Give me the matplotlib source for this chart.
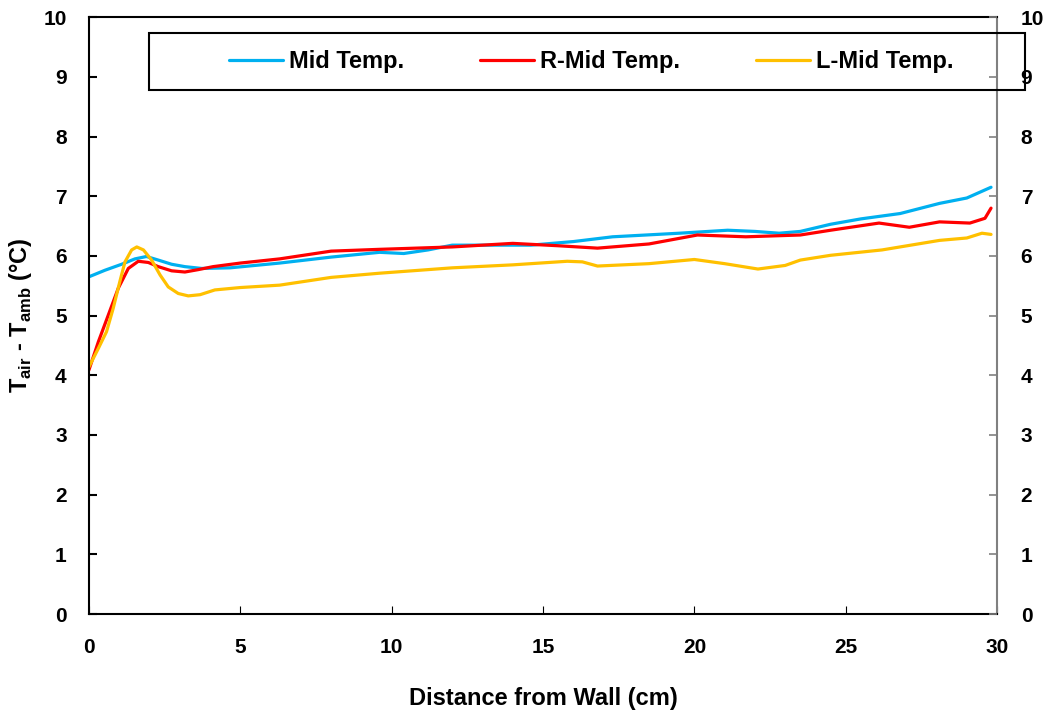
import matplotlib
matplotlib.use("Agg")
import matplotlib.pyplot as plt
from matplotlib.patches import Rectangle

plt.rcParams["font.family"] = ["Liberation Sans", "DejaVu Sans"]
plt.rcParams["font.weight"] = "bold"
plt.rcParams["mathtext.fontset"] = "custom"
plt.rcParams["mathtext.rm"] = "Liberation Sans:bold"
plt.rcParams["mathtext.bf"] = "Liberation Sans:bold"

# distance from wall (cm) and temperature rise (°C)
mid_x = [0, 0.53, 1.08, 1.52, 1.9, 2.29, 2.73, 3.17, 3.72, 4.66, 6.3, 8, 9.6, 10.4, 11.2, 12.0, 13.5,
         14.6, 16, 17.3, 19.5, 21.1, 22.0, 22.8, 23.5, 24.5, 25.5, 26.8, 28.1, 29.0, 29.8]
mid_y = [5.65, 5.76, 5.86, 5.95, 5.99, 5.93, 5.86, 5.82, 5.79, 5.8, 5.88, 5.98, 6.06, 6.04, 6.1, 6.18, 6.18,
         6.18, 6.24, 6.32, 6.38, 6.43, 6.41, 6.38, 6.41, 6.53, 6.62, 6.71, 6.88, 6.97, 7.15]

rmid_x = [0, 0.31, 0.64, 0.97, 1.3, 1.63, 1.96, 2.29, 2.73, 3.17, 3.61, 4.1, 5, 6.3, 8, 9.6, 12, 14.0,
          15.5, 16.8, 18.5, 20.1, 21.7, 23.5, 24.5, 26.1, 27.1, 28.1, 29.1, 29.6, 29.8]
rmid_y = [4.09, 4.56, 5.01, 5.46, 5.79, 5.91, 5.89, 5.82, 5.75, 5.73, 5.77, 5.82, 5.88, 5.95, 6.08, 6.11,
          6.15, 6.21, 6.17, 6.13, 6.2, 6.35, 6.32, 6.35, 6.43, 6.55, 6.48, 6.57, 6.55, 6.63, 6.8]

lmid_x = [0, 0.31, 0.58, 0.8, 1.02, 1.19, 1.41, 1.58, 1.8, 2.07, 2.35, 2.62, 2.95, 3.28, 3.67, 4.16,
          5, 6.3, 8, 9.6, 12, 14, 15.8, 16.3, 16.8, 18.5, 20.0, 21.0, 22.1, 23.0, 23.5, 24.5, 26.2, 28.1,
          29.0, 29.5, 29.8]
lmid_y = [4.14, 4.45, 4.73, 5.12, 5.57, 5.9, 6.1, 6.15, 6.1, 5.93, 5.68, 5.48, 5.37, 5.33, 5.35, 5.43,
          5.47, 5.51, 5.64, 5.71, 5.8, 5.85, 5.91, 5.9, 5.83, 5.87, 5.94, 5.87, 5.78, 5.84, 5.93, 6.01, 6.1,
          6.26, 6.3, 6.38, 6.36]

series = [("Mid Temp.", mid_x, mid_y, "#00b0f0"),
          ("R-Mid Temp.", rmid_x, rmid_y, "#ff0000"),
          ("L-Mid Temp.", lmid_x, lmid_y, "#ffc000")]

fig = plt.figure(figsize=(10.54, 7.14), dpi=100)
ax = fig.add_axes([0.0844, 0.140, 0.8616, 0.836])

for name, xs, ys, col in series:
    ax.plot(xs, ys, color=col, lw=2.3, label=name, solid_capstyle="round", solid_joinstyle="round")

ax.set_xlim(0, 30)
ax.set_ylim(0, 10)
ax.set_xticks(range(0, 31, 5))
ax.set_yticks(range(0, 11))
ax.tick_params(axis="y", direction="in", labelsize=15, width=1.5, length=6, pad=16)
ax.tick_params(axis="x", direction="in", labelsize=15, width=0.8, length=6, pad=17)
for lab in ax.get_xticklabels() + ax.get_yticklabels():
    lab.set_fontweight("bold")
for s in ["left", "top", "bottom"]:
    ax.spines[s].set_linewidth(1.5)
ax.spines["right"].set_color("#808080")
ax.spines["right"].set_linewidth(1.5)

ax2 = ax.twinx()
ax2.set_ylim(0, 10)
ax2.set_yticks(range(0, 11))
ax2.tick_params(axis="y", direction="in", labelsize=15, colors="#808080", labelcolor="black",
                width=1.2, length=6, pad=17)
for lab in ax2.get_yticklabels():
    lab.set_fontweight("bold")
for s in ax2.spines.values():
    s.set_visible(False)

ax.set_xlabel("Distance from Wall (cm)", fontsize=17, fontweight="bold", labelpad=22)
ax.set_ylabel(r"T$_{\mathrm{air}}$ - T$_{\mathrm{amb}}$ (°C)", fontsize=17, fontweight="bold", labelpad=7)

# legend box drawn separately so it can overhang the right axis like the original
box = Rectangle((0.066, 0.878), 0.965, 0.0952, transform=ax.transAxes, fill=False,
                edgecolor="black", lw=1.5, clip_on=False, zorder=5)
ax2.add_patch(box)
leg = ax2.legend(*ax.get_legend_handles_labels(), loc="center", bbox_to_anchor=(0.553, 0.9255),
                 ncol=3, frameon=False, handlelength=2.3, handletextpad=0.25, columnspacing=3.2,
                 borderaxespad=0, prop={"weight": "bold", "size": 17})
leg.set_zorder(6)

fig.savefig("out.png", dpi=100)
